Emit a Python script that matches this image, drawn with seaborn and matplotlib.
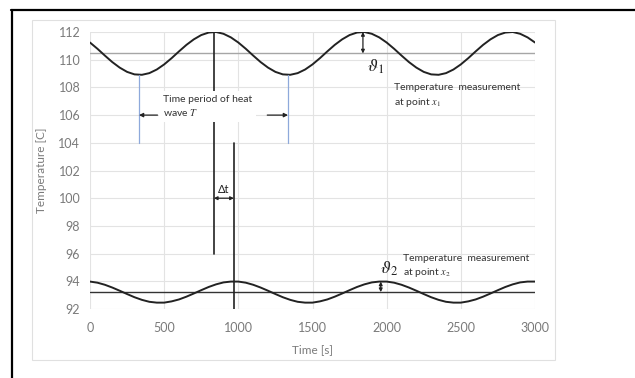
import matplotlib
matplotlib.use("Agg")
import matplotlib.pyplot as plt
import seaborn as sns
import pandas as pd
from matplotlib.lines import Line2D
from matplotlib.patches import Rectangle

# ---- data ----
time_s = list(range(0, 3001, 50))
temp_x1 = [111.24, 110.79, 110.30, 109.83, 109.43, 109.12, 108.94, 108.91, 109.03, 109.29,
           109.66, 110.11, 110.60, 111.07, 111.47, 111.78, 111.96, 112.00, 111.87, 111.61,
           111.24, 110.79, 110.30, 109.83, 109.43, 109.12, 108.94, 108.91, 109.03, 109.29,
           109.66, 110.11, 110.60, 111.07, 111.47, 111.78, 111.96, 112.00, 111.87, 111.61,
           111.24, 110.79, 110.30, 109.83, 109.43, 109.12, 108.94, 108.91, 109.03, 109.29,
           109.66, 110.11, 110.60, 111.07, 111.47, 111.78, 111.96, 112.00, 111.87, 111.61,
           111.24]
temp_x2 = [93.98, 93.90, 93.75, 93.55, 93.32, 93.08, 92.85, 92.66, 92.52, 92.46,
           92.46, 92.55, 92.69, 92.89, 93.12, 93.36, 93.59, 93.78, 93.92, 93.98,
           93.98, 93.90, 93.75, 93.55, 93.32, 93.08, 92.85, 92.66, 92.52, 92.46,
           92.46, 92.55, 92.69, 92.89, 93.12, 93.36, 93.59, 93.78, 93.92, 93.98,
           93.98, 93.90, 93.75, 93.55, 93.32, 93.08, 92.85, 92.66, 92.52, 92.46,
           92.46, 92.55, 92.69, 92.89, 93.12, 93.36, 93.59, 93.78, 93.92, 93.98,
           93.98]
mean_x1 = 110.45
mean_x2 = 93.22
peak_x1_t = 835        # time of peak of upper wave
peak_x2_t = 970        # time of peak of lower wave
min_x1_t = [330, 1335]  # minima bounding period T
x_ticks = [0, 500, 1000, 1500, 2000, 2500, 3000]
y_ticks = [92, 94, 96, 98, 100, 102, 104, 106, 108, 110, 112]

df = pd.DataFrame({"Time [s]": time_s, "x1": temp_x1, "x2": temp_x2})

sns.set_theme(style="white")
plt.rcParams["font.family"] = ["Lato", "DejaVu Sans"]
plt.rcParams["mathtext.fontset"] = "stix"

W, H = 635, 378
fig = plt.figure(figsize=(W / 100, H / 100), dpi=100)
ax = fig.add_axes([90 / W, 1 - 309 / H, (535 - 90) / W, (309 - 32) / H])

# outer frame and chart area
fig.add_artist(Line2D([11 / W, 1], [1 - 10 / H, 1 - 10 / H], color="black", lw=1.6))
fig.add_artist(Line2D([12 / W, 12 / W], [0, 1 - 10 / H], color="black", lw=1.6))
fig.add_artist(Rectangle((32 / W, 1 - 360 / H), (555 - 32) / W, (360 - 20) / H,
                         fill=False, ec="#e0e0e0", lw=0.8))

ax.set_xlim(0, 3000)
ax.set_ylim(92, 112)
ax.set_xticks(x_ticks)
ax.set_yticks(y_ticks)
ax.grid(True, color="#e3e3e3", lw=0.8)
for s in ax.spines.values():
    s.set_visible(False)
ax.tick_params(length=0, labelsize=9, labelcolor="#7a7a7a")
ax.tick_params(axis="x", pad=9)
ax.tick_params(axis="y", pad=7)

# mean lines
ax.axhline(mean_x1, color="#a6a6a6", lw=1.0)
ax.axhline(mean_x2, color="#333333", lw=1.0)

sns.lineplot(data=df, x="Time [s]", y="x1", ax=ax, color="#222222", lw=1.4)
sns.lineplot(data=df, x="Time [s]", y="x2", ax=ax, color="#222222", lw=1.4)

ax.set_xlabel("Time [s]", fontsize=8.5, color="#7a7a7a")
ax.set_ylabel("Temperature [C]", fontsize=8.5, color="#7a7a7a")
ax.yaxis.set_label_coords((47 - 90) / 445, 0.5)
ax.xaxis.set_label_coords(0.5, -(344 - 309) / 277)

# vertical marker lines
ax.plot([peak_x1_t, peak_x1_t], [112, 96], color="#222222", lw=1.2)
ax.plot([peak_x2_t, peak_x2_t], [104, 92], color="#222222", lw=1.2)
for t in min_x1_t:
    ax.plot([t, t], [108.9, 104], color="#8ea9db", lw=0.9)

# period arrows
ap = dict(arrowstyle="-|>", color="#222222", lw=0.9, mutation_scale=6, shrinkA=0, shrinkB=0)
ax.annotate("", xy=(min_x1_t[0], 106), xytext=(455, 106), arrowprops=ap)
ax.annotate("", xy=(min_x1_t[1], 106), xytext=(1195, 106), arrowprops=ap)
ax.text(490, 106.6, "Time period of heat\nwave $\\mathit{T}$", fontsize=7.5, color="#333333",
        va="center", ha="left", linespacing=1.3,
        bbox=dict(fc="white", ec="none", pad=3))

# delta t arrow
ap2 = dict(arrowstyle="<|-|>", color="#222222", lw=0.9, mutation_scale=5, shrinkA=0, shrinkB=0)
ax.annotate("", xy=(peak_x1_t, 100.0), xytext=(peak_x2_t, 100.0), arrowprops=ap2)
ax.text((peak_x1_t + peak_x2_t) / 2, 100.2, "Δt", fontsize=8, color="#222222",
        ha="center", va="bottom")

# amplitude arrows
ax.annotate("", xy=(1840, 112.0), xytext=(1840, mean_x1), arrowprops=ap2)
ax.text(1870, 109.5, "$\\vartheta_1$", fontsize=13, color="#222222", ha="left", va="center")
ax.annotate("", xy=(1960, 93.98), xytext=(1960, mean_x2), arrowprops=ap2)
ax.text(1955, 94.9, "$\\vartheta_2$", fontsize=13, color="#222222", ha="left", va="center")

ax.text(2050, 108.3, "Temperature  measurement\nat point $\\mathit{x_1}$", fontsize=7.5,
        color="#333333", ha="left", va="top", linespacing=1.4)
ax.text(2110, 96.0, "Temperature  measurement\nat point $\\mathit{x_2}$", fontsize=7.5,
        color="#333333", ha="left", va="top", linespacing=1.4)

fig.savefig("out.png", dpi=100)
